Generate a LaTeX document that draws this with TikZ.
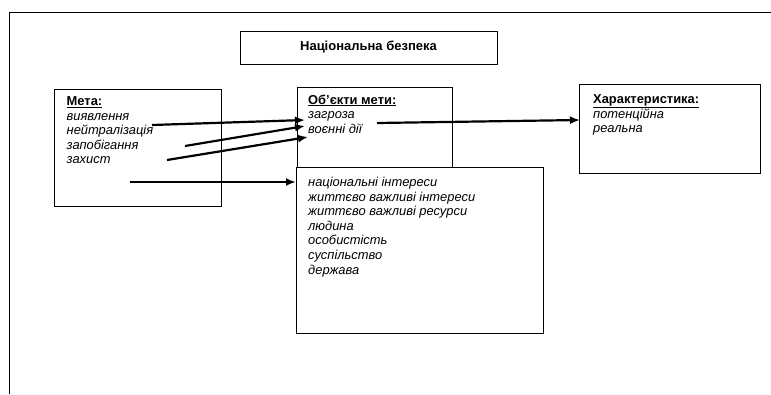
\documentclass[tikz,border=0pt]{standalone}
\usepackage{fontspec}
\setmainfont{Liberation Sans}
\usetikzlibrary{arrows.meta}
\tikzset{
  box/.style={draw, line width=1pt, inner sep=0pt, outer sep=0pt, anchor=north west},
  txt/.style={anchor=base west, align=left, inner sep=0pt, font=\fontsize{12.9}{14.6}\selectfont},
  arr/.style={line width=2.2pt, -{Latex[length=10pt,width=8pt]}},
  frame/.style={line width=1pt}
}
\begin{document}
\begin{tikzpicture}[x=1pt,y=-1pt]
\useasboundingbox (0,0) rectangle (771,394);
% frame
\coordinate (fbl) at (9,394);
\coordinate (ftl) at (9,12);
\coordinate (ftr) at (771,12);
\draw[frame] (fbl) -- (ftl) -- (ftr);
% boxes
\node[box, minimum width=257pt, minimum height=33pt] (title) at (240,31) {};
\node[font=\fontsize{13}{14}\selectfont\bfseries] (titletext) at (title.center) {Національна безпека};
\node[box, minimum width=167pt, minimum height=117pt] (meta) at (54,89) {};
\node[box, minimum width=155pt, minimum height=80pt] (obj) at (297,87) {};
\node[box, minimum width=181pt, minimum height=89pt] (char) at (579,84) {};
\node[box, minimum width=247pt, minimum height=166pt] (big) at (296,167) {};
% texts (anchor at baseline of last line)
\node[txt] (metatext) at (66.5,163.9) {\textbf{\underline{Мета:}}\\\itshape виявлення\\\itshape нейтралізація\\\itshape запобігання\\\itshape захист};
\node[txt] (objtext) at (308,133.2) {\textbf{\underline{Об'єкти мети:}}\\\itshape загроза\\\itshape воєнні дії};
\node[txt] (chartext) at (593,132.7) {\textbf{\underline{Характеристика:}}\\\itshape потенційна\\\itshape реальна};
\node[txt] (bigtext) at (308,274.1) {\itshape національні інтереси\\\itshape життєво важливі інтереси\\\itshape життєво важливі ресурси\\\itshape людина\\\itshape особистість\\\itshape суспільство\\\itshape держава};
% arrow end points
\coordinate (s1) at (152,125);
\coordinate (e1) at (305,120);
\coordinate (s2) at (185,146);
\coordinate (e2) at (305,126);
\coordinate (s3) at (167,160);
\coordinate (e3) at (308,137);
\coordinate (s4) at (130,182);
\coordinate (e4) at (296,182);
\coordinate (s5) at (377,123);
\coordinate (e5) at (580,120);
\draw[arr] (s1) -- (e1);
\draw[arr] (s2) -- (e2);
\draw[arr] (s3) -- (e3);
\draw[arr] (s4) -- (e4);
\draw[arr] (s5) -- (e5);
\end{tikzpicture}
\end{document}
